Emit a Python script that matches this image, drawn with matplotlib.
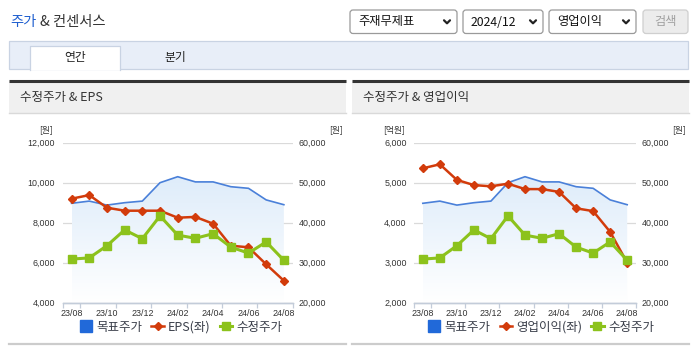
import matplotlib
matplotlib.use("Agg")
import matplotlib.pyplot as plt
import numpy as np
from matplotlib import font_manager
from matplotlib.lines import Line2D
from matplotlib.patches import Rectangle, FancyBboxPatch

plt.rcParams["font.family"] = ["Noto Sans CJK KR", "DejaVu Sans"]

_installed = {f.name for f in font_manager.fontManager.ttflist}
NUM_FONT = "Liberation Sans Narrow" if "Liberation Sans Narrow" in _installed else "Liberation Sans"
NUM_SIZE = 7.0 if NUM_FONT == "Liberation Sans Narrow" else 6.4

# ---- data ----
months = ["23/08", "23/09", "23/10", "23/11", "23/12", "24/01", "24/02",
          "24/03", "24/04", "24/05", "24/06", "24/07", "24/08"]
target_price = [44850, 45400, 44400, 45000, 45400, 50000, 51500,
                50200, 50200, 49000, 48600, 45700, 44500]
adj_price = [30900, 31200, 34250, 38200, 36000, 41700, 36900,
             36100, 37250, 33900, 32400, 35200, 30600]
eps = [9200, 9380, 8750, 8600, 8600, 8600, 8250,
       8290, 7950, 6850, 6770, 5920, 5100]
op_income = [5360, 5460, 5070, 4940, 4910, 4975, 4840,
             4840, 4770, 4360, 4290, 3770, 3000]

eps_ticks = [4000, 6000, 8000, 10000, 12000]
op_ticks = [2000, 3000, 4000, 5000, 6000]
price_ticks = [20000, 30000, 40000, 50000, 60000]

BLUE = "#4a80d9"
RED = "#d23b0b"
GREEN = "#8cc21c"
AXIS = "#c3ccd9"
TXT = "#333333"

W, H = 695, 349
fig = plt.figure(figsize=(W / 100, H / 100), dpi=100)
fig.patch.set_facecolor("white")

bg = fig.add_axes([0, 0, 1, 1])
bg.set_xlim(0, W)
bg.set_ylim(H, 0)
bg.axis("off")


def px_axes(x0, y0, x1, y1):
    return fig.add_axes([x0 / W, 1 - y1 / H, (x1 - x0) / W, (y1 - y0) / H])


# ---- page header ----
bg.text(10, 22, "주가", color="#1f5fcf", fontsize=10.3, va="center", ha="left")
bg.text(40, 22, "& 컨센서스", color=TXT, fontsize=10.3, va="center", ha="left")


def dropdown(x0, x1, label):
    bg.add_patch(FancyBboxPatch((x0, 10), x1 - x0, 23.5,
                                boxstyle="round,pad=0,rounding_size=3",
                                fc="white", ec="#9a9a9a", lw=0.9))
    bg.text(x0 + 8, 22, label, fontsize=8.8, color="#111", va="center", ha="left")
    cx = x1 - 10
    bg.plot([cx - 3, cx, cx + 3], [20.3, 23.3, 20.3], color="#222", lw=1.6,
            solid_capstyle="round")


dropdown(350, 457, "주재무제표")
dropdown(463, 543, "2024/12")
dropdown(549, 636, "영업이익")
bg.add_patch(FancyBboxPatch((643, 10), 45, 23.5, boxstyle="round,pad=0,rounding_size=3",
                            fc="#ececec", ec="#cfcfcf", lw=0.9))
bg.text(665.5, 22, "검색", fontsize=8.8, color="#a0a0a0", va="center", ha="center")

# ---- tabs ----
bg.add_patch(Rectangle((9, 41), 679, 28, fc="#e8eef8", ec="#c9d3e3", lw=0.9))
bg.add_patch(Rectangle((29.5, 45.5), 90.5, 24, fc="white", ec="none"))
bg.plot([29.5, 29.5, 120, 120], [69.5, 45.5, 45.5, 69.5], color="#c9d3e3", lw=0.9)
bg.text(75, 57, "연간", fontsize=8.5, color="#222", va="center", ha="center")
bg.text(175, 57, "분기", fontsize=8.5, color="#222", va="center", ha="center")

# ---- panels ----
panels = [(9, 346, "수정주가 & EPS"), (352, 689, "수정주가 & 영업이익")]
for x0, x1, title in panels:
    bg.add_patch(Rectangle((x0, 81), x1 - x0, 32, fc="#f0f0f0", ec="none"))
    bg.plot([x0, x1], [80.5, 80.5], color="#333333", lw=2.2, solid_capstyle="butt")
    bg.plot([x0, x1], [113, 113], color="#d9d9d9", lw=1)
    bg.plot([x0, x1], [343.5, 343.5], color="#cccccc", lw=1.6)
    bg.text(x0 + 11, 97, title, fontsize=9, color=TXT, va="center", ha="left")


def gradient_area(ax, x, y, lo, hi):
    poly = ax.fill_between(x, y, lo, facecolor="none", edgecolor="none")
    top = np.array([0.87, 0.925, 0.98])
    bot = np.array([1.0, 1.0, 1.0])
    t = np.linspace(0, 1, 256)[:, None]
    ramp = np.clip((t - 0.2) / 0.8, 0, 1)
    img = (top * (1 - ramp) + bot * ramp)[:, None, :]
    im = ax.imshow(img, extent=[x[0], x[-1], lo, hi], aspect="auto",
                   origin="upper", zorder=1)
    im.set_clip_path(poly.get_paths()[0], transform=ax.transData)


def draw_chart(box, left_vals, left_ticks, left_name, left_unit, legend_cx, unit_pos):
    x = np.arange(len(months))
    ax_b = px_axes(*box)
    ax_l = ax_b.twinx()
    ax_g = ax_b.twinx()

    # base axis: target price (right scale) + grid
    ax_b.set_xlim(-0.5, len(months) - 0.5)
    ax_b.set_ylim(price_ticks[0], price_ticks[-1])
    gradient_area(ax_b, x, target_price, price_ticks[0], price_ticks[-1])
    ax_b.plot(x, target_price, color=BLUE, lw=1.2, zorder=3)
    ax_b.set_yticks(price_ticks, [f"{v:,}" for v in price_ticks])
    ax_b.yaxis.tick_right()
    ax_b.grid(axis="y", color="#dadada", lw=0.9)
    ax_b.set_axisbelow(True)
    ax_b.set_xticks(x[::2], months[::2])
    ax_b.set_xticks(np.r_[-0.5, np.arange(0.5, len(months), 2)], minor=True)
    ax_b.tick_params(axis="x", which="major", length=0, pad=4.2, labelsize=NUM_SIZE,
                     labelcolor=TXT)
    ax_b.tick_params(axis="x", which="minor", length=3.5, color=AXIS, width=0.9)
    ax_b.tick_params(axis="y", length=0, pad=4, labelsize=NUM_SIZE, labelcolor=TXT)
    for lab in ax_b.get_xticklabels() + ax_b.get_yticklabels():
        lab.set_fontfamily(NUM_FONT)

    # left scale: EPS / operating income
    ax_l.set_ylim(left_ticks[0], left_ticks[-1])
    ax_l.plot(x, left_vals, color=RED, lw=1.8, marker="D", ms=4.0, mec=RED, zorder=3)
    ax_l.yaxis.tick_left()
    ax_l.set_yticks(left_ticks, [f"{v:,}" for v in left_ticks])
    ax_l.tick_params(axis="y", length=0, pad=5.5, labelsize=NUM_SIZE, labelcolor=TXT)
    for lab in ax_l.get_yticklabels():
        lab.set_fontfamily(NUM_FONT)

    # right scale: adjusted price
    ax_g.set_ylim(price_ticks[0], price_ticks[-1])
    ax_g.plot(x, adj_price, color=GREEN, lw=2.2, marker="s", ms=6.0, mec=GREEN, zorder=3)
    ax_g.set_yticks([])

    for a in (ax_b, ax_l, ax_g):
        for s in ("top", "left", "right"):
            a.spines[s].set_visible(False)
        a.spines["bottom"].set_color(AXIS)
        a.spines["bottom"].set_linewidth(0.9)

    lx, rx, uy = unit_pos
    bg.text(lx, uy, left_unit, fontsize=6.3, color=TXT, ha="center", va="center")
    bg.text(rx, uy, "[원]", fontsize=6.3, color=TXT, ha="center", va="center")

    handles = [
        Line2D([], [], ls="none", marker="s", ms=8, color="#2169d9"),
        Line2D([], [], color=RED, lw=1.8, marker="D", ms=4),
        Line2D([], [], color=GREEN, lw=2.2, marker="s", ms=5.5),
    ]
    fig.legend(handles, ["목표주가", left_name, "수정주가"], loc="center",
               bbox_to_anchor=(legend_cx / W, 1 - 327 / H), ncol=3, frameon=False,
               fontsize=9, handlelength=1.0, handletextpad=0.35, columnspacing=0.7,
               labelcolor="#3a3f4a", borderpad=0)


draw_chart((62.7, 142.7, 292.7, 302.7), eps, eps_ticks, "EPS(좌)", "[원]", 181,
           (46, 336, 130))
draw_chart((414.3, 142.7, 635.7, 302.7), op_income, op_ticks, "영업이익(좌)", "[억원]", 541,
           (394, 679, 130))

fig.savefig("out.png", dpi=100, facecolor="white")
